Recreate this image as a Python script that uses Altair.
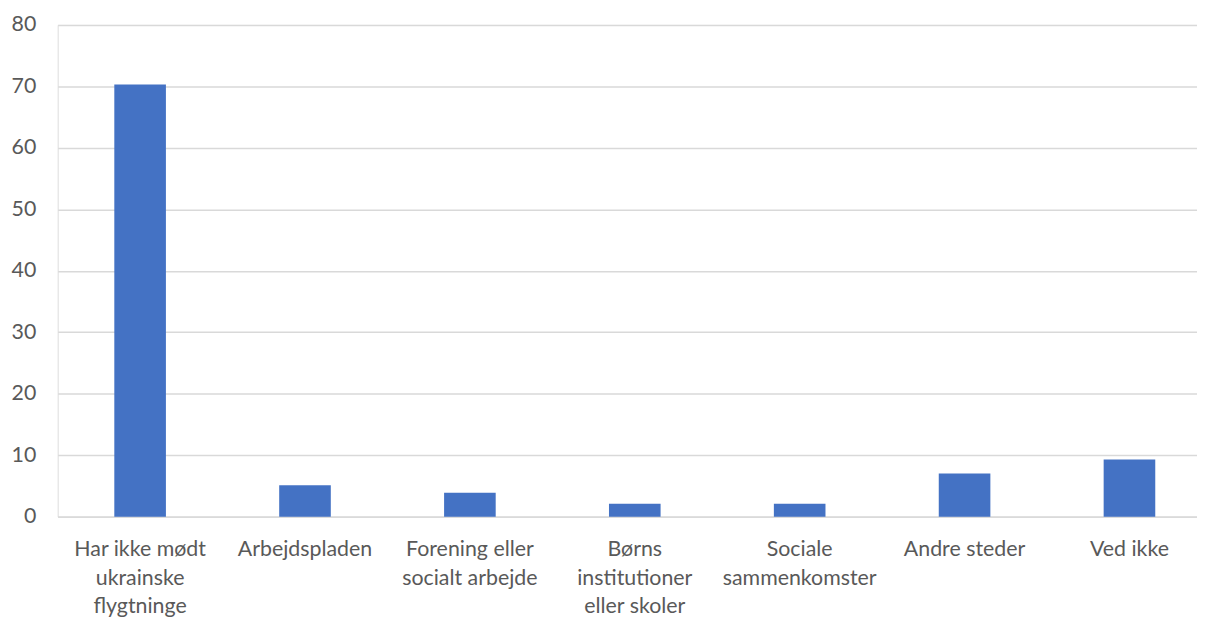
import altair as alt
import pandas as pd

categories = [
    "Har ikke mødt|ukrainske|flygtninge",
    "Arbejdspladen",
    "Forening eller|socialt arbejde",
    "Børns|institutioner|eller skoler",
    "Sociale|sammenkomster",
    "Andre steder",
    "Ved ikke",
]
values = [70.3, 5.1, 3.9, 2.1, 2.1, 7.0, 9.3]
y_ticks = [0, 10, 20, 30, 40, 50, 60, 70, 80]

df = pd.DataFrame({"kategori": categories, "vaerdi": values})

FONT = "Lato"
TXT = "#595959"

chart = (
    alt.Chart(df)
    .mark_bar(color="#4472C4")
    .encode(
        x=alt.X(
            "kategori:N",
            sort=categories,
            title=None,
            scale=alt.Scale(range=[0, 1162], paddingInner=0.687, paddingOuter=0.3435),
            axis=alt.Axis(
                labelAngle=0,
                labelExpr="split(datum.label, '|')",
                labelFont=FONT,
                labelFontSize=21.5,
                labelColor=TXT,
                labelLineHeight=29,
                labelPadding=22,
                labelLimit=0,
                labelOverlap=False,
                ticks=False,
                domainColor="#d9d9d9",
                domainWidth=1.5,
                labelBaseline="top",
            ),
        ),
        y=alt.Y(
            "vaerdi:Q",
            title=None,
            scale=alt.Scale(domain=[0, 80], nice=False),
            axis=alt.Axis(
                values=y_ticks,
                labelFont=FONT,
                labelFontSize=21.5,
                labelColor=TXT,
                labelPadding=22,
                ticks=False,
                domain=False,
                gridColor="#d9d9d9",
                gridWidth=1.5,
            ),
        ),
    )
    .properties(
        width=1147,
        height=495,
        autosize=alt.AutoSizeParams(type="none"),
        padding={"left": 50, "top": 15, "right": 0, "bottom": 100},
    )
    .configure_view(stroke=None)
    .configure(background="white")
)

chart.save("out.html", embed_options={"renderer": "svg", "actions": False})
